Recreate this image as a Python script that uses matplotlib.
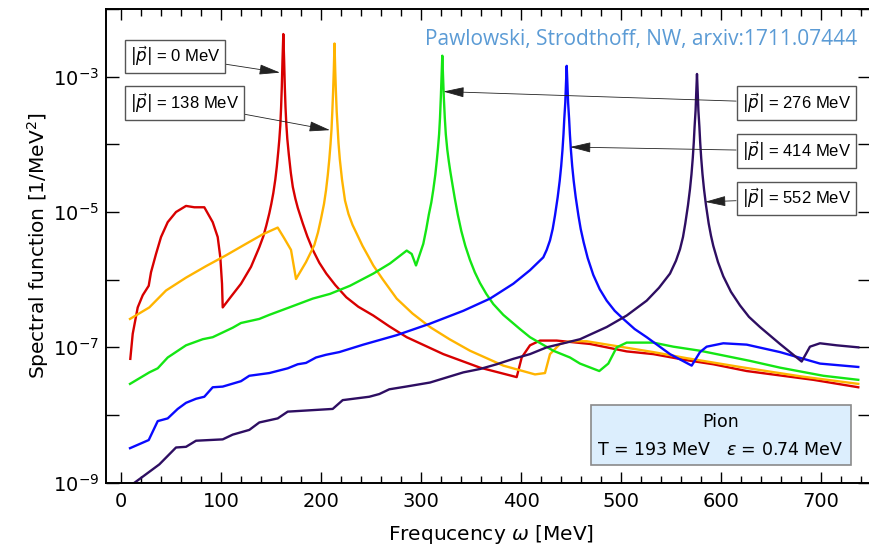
import numpy as np
import matplotlib
matplotlib.use('Agg')
import matplotlib.pyplot as plt
from matplotlib.patches import Rectangle

'''
Pion spectral function at finite momentum (log y axis).
Curves are read off the reference picture: omega in MeV and
log10 of the spectral function in 1/MeV^2.
'''

# |p| = 0 MeV
red_w = [9, 11.4, 16.4, 21.4, 27.4, 29.7, 34.7, 39.7, 46.4, 54.7, 64.7, 73, 83, 91.4, 96.4,
         99, 100.7, 101.4, 109.7, 119.7, 129.7, 138, 142, 145, 148, 150, 152, 154, 155.5, 157,
         158, 159, 159.8, 160.5, 161.2, 162, 162.8, 163.5, 164.2, 165, 166, 167.5, 169.5,
         171.5, 174, 176.5, 181.5, 186, 191.5, 198, 205, 214, 225, 237, 252, 268, 285.4, 322,
         358.7, 395.4, 400.4, 408.7, 418.7, 435.4, 468.7, 498.7, 505.4, 532, 565.4, 592,
         625.4, 692, 737]
red_log = [-7.17, -6.80, -6.41, -6.23, -6.09, -5.89, -5.62, -5.37, -5.15, -5.00, -4.91, -4.93,
           -4.93, -5.15, -5.37, -5.67, -6.06, -6.41, -6.25, -6.06, -5.81, -5.52, -5.36, -5.20,
           -5.02, -4.88, -4.72, -4.52, -4.33, -4.10, -3.93, -3.72, -3.45, -3.15, -2.75, -2.37,
           -2.75, -3.15, -3.45, -3.70, -3.92, -4.15, -4.42, -4.63, -4.80, -4.94, -5.17, -5.36,
           -5.56, -5.75, -5.91, -6.08, -6.26, -6.40, -6.53, -6.69, -6.85, -7.10, -7.30, -7.44,
           -7.15, -6.97, -6.90, -6.90, -6.95, -7.04, -7.06, -7.10, -7.19, -7.25, -7.35, -7.48,
           -7.59]

# |p| = 138 MeV
orange_w = [8.7, 28, 44.7, 64.7, 84.7, 104.7, 124.7, 141.4, 156.4, 163, 169.7, 174.7, 184.7,
            193, 196.7, 199.7, 202.7, 204.7, 206.5, 208, 209.2, 210.2, 211, 211.8, 212.5,
            213.2, 213.9, 214.6, 215.4, 216.2, 217.2, 218.5, 220.7, 223.7, 227.2, 231.2, 235.4,
            241.2, 247.2, 252, 261.2, 275.4, 291.2, 308.7, 328.2, 348.7, 382, 413.7, 423.7,
            428.7, 438.7, 448.7, 465.4, 498.7, 532, 565.4, 618.7, 680, 737]
orange_log = [-6.58, -6.41, -6.16, -5.97, -5.80, -5.64, -5.47, -5.33, -5.23, -5.39, -5.56, -5.99,
              -5.74, -5.49, -5.30, -5.10, -4.88, -4.68, -4.45, -4.22, -4.00, -3.78, -3.52,
              -3.22, -2.90, -2.51, -2.90, -3.22, -3.52, -3.72, -3.98, -4.22, -4.52, -4.83,
              -5.03, -5.19, -5.32, -5.50, -5.66, -5.79, -5.99, -6.28, -6.50, -6.70, -6.88,
              -7.05, -7.27, -7.40, -7.38, -7.10, -6.95, -6.91, -6.91, -6.99, -7.07, -7.16,
              -7.29, -7.43, -7.54]

# |p| = 276 MeV
green_w = [8.7, 28, 36.4, 46.4, 64.7, 81.4, 91.4, 101.4, 111.4, 119.7, 138, 148, 168, 191.4,
           208.7, 228.7, 252, 268.7, 285.4, 290.4, 294.7, 302, 305, 307.5, 310, 312, 314,
           315.5, 316.7, 317.8, 318.7, 319.6, 320.3, 321, 321.7, 322.5, 323.5, 324.5, 326,
           327.5, 329, 331, 333.5, 336.5, 340, 344, 348.7, 353.5, 358.7, 365, 372, 382, 398.7,
           408.7, 432, 448.7, 458.7, 478, 487, 495.4, 505.4, 532, 552, 578.7, 598.7, 628.7,
           658.7, 702, 737]
green_log = [-7.54, -7.37, -7.31, -7.15, -6.97, -6.88, -6.85, -6.78, -6.71, -6.64, -6.58, -6.52,
             -6.41, -6.28, -6.21, -6.09, -5.91, -5.76, -5.57, -5.62, -5.79, -5.47, -5.25, -5.04,
             -4.86, -4.67, -4.45, -4.24, -4.05, -3.85, -3.61, -3.28, -2.98, -2.69, -2.98, -3.30,
             -3.61, -3.85, -4.08, -4.25, -4.40, -4.58, -4.80, -5.04, -5.28, -5.50, -5.71, -5.89,
             -6.05, -6.21, -6.36, -6.52, -6.73, -6.85, -7.05, -7.15, -7.24, -7.35, -7.24, -7.00,
             -6.93, -6.93, -6.99, -7.05, -7.11, -7.20, -7.30, -7.42, -7.48]

# |p| = 414 MeV
blue_w = [8.7, 27.4, 36.4, 46.4, 56.4, 64.7, 74.7, 83, 91.4, 101.4, 119.7, 128, 148, 166.4,
          176.4, 184.7, 194.7, 204.7, 218, 242, 275.4, 308.7, 342, 368.7, 392, 408.7, 422,
          425.4, 428.7, 431.4, 433.7, 436.4, 438.4, 439.9, 441.2, 442.2, 443, 444, 444.7,
          445.4, 446.1, 446.8, 447.8, 448.6, 449.6, 450.9, 452.4, 454.4, 457.1, 459.4, 462.4,
          466.4, 472, 478.4, 485.4, 493.4, 502, 513.4, 525.4, 548.7, 570.4, 578.7, 585.4, 602,
          625.4, 658.7, 698.7, 737]
blue_log = [-8.49, -8.37, -8.09, -8.05, -7.91, -7.82, -7.76, -7.73, -7.59, -7.58, -7.50, -7.42,
            -7.38, -7.31, -7.25, -7.23, -7.15, -7.11, -7.07, -6.96, -6.82, -6.65, -6.46, -6.28,
            -6.06, -5.86, -5.67, -5.56, -5.42, -5.25, -5.05, -4.78, -4.54, -4.32, -4.08, -3.85,
            -3.62, -3.38, -3.10, -2.84, -3.10, -3.38, -3.62, -3.85, -4.08, -4.32, -4.54, -4.78,
            -5.05, -5.25, -5.45, -5.68, -5.93, -6.14, -6.31, -6.46, -6.58, -6.73, -6.85, -7.10,
            -7.27, -7.07, -6.99, -6.94, -6.96, -7.07, -7.24, -7.29]

# |p| = 552 MeV
purple_w = [8.7, 11.4, 19.7, 38, 54.7, 64.7, 74.7, 88, 101.4, 111.4, 128, 138, 156.4, 166.4,
            211.4, 221.4, 248, 258, 268, 284.7, 308.7, 342, 358.7, 375.4, 392, 408.7, 425.4,
            458.7, 485.4, 505.4, 525.4, 537.7, 548.7, 554.7, 558.7, 561.7, 564, 566.7, 568.7,
            570.2, 571.5, 572.5, 573.3, 574.3, 575, 575.7, 576.4, 577.1, 578.1, 578.9, 579.9,
            581.2, 582.7, 584.7, 587.4, 589.7, 592, 596.7, 602, 609.7, 618.7, 627.7, 638.7,
            658.7, 680.4, 688.7, 698.7, 715.4, 737]
purple_log = [-9.10, -9.02, -8.93, -8.73, -8.48, -8.47, -8.38, -8.37, -8.36, -8.29, -8.22, -8.11,
              -8.05, -7.95, -7.91, -7.78, -7.73, -7.69, -7.62, -7.58, -7.52, -7.37, -7.32, -7.25,
              -7.17, -7.10, -7.00, -6.88, -6.70, -6.53, -6.31, -6.12, -5.91, -5.72, -5.55, -5.37,
              -5.17, -4.90, -4.66, -4.44, -4.20, -3.97, -3.74, -3.50, -3.22, -2.96, -3.22, -3.50,
              -3.74, -3.97, -4.20, -4.44, -4.66, -4.90, -5.17, -5.35, -5.50, -5.74, -5.95, -6.18,
              -6.38, -6.55, -6.70, -6.95, -7.21, -6.99, -6.94, -6.97, -7.00]

curves = [
    (red_w, red_log, '#D80000'),
    (orange_w, orange_log, '#FFB400'),
    (green_w, green_log, '#14E614'),
    (blue_w, blue_log, '#0A0AFF'),
    (purple_w, purple_log, '#2E0E62'),
]

# momentum labels: text, arrow tip (omega, log10 value), box centre (omega, log10 value)
labels = ['0', '138', '276', '414', '552']
tip_w = [158.7, 208.7, 322, 448.7, 583.7]
tip_log = [-2.94, -3.79, -3.22, -4.04, -4.85]
box_w = [53.7, 63, 674.9, 674.9, 674.9]
box_log = [-2.70, -3.39, -3.39, -4.10, -4.80]

fig = plt.figure(figsize=(8.69, 5.49), dpi=100)
ax = fig.add_axes([0.1220, 0.1208, 0.8797, 0.8628])

for w, lg, c in curves:
    ax.plot(w, 10.0 ** np.array(lg), color=c, lw=1.7, solid_joinstyle='round')

ax.set_yscale('log')
ax.set_xlim(-15.3, 749.2)
ax.set_ylim(1e-9, 1e-2)

ax.set_xticks([0, 100, 200, 300, 400, 500, 600, 700])
ax.set_xticks(np.arange(0, 760, 20), minor=True)
ax.set_yticks([10.0 ** k for k in range(-9, -1)])
ax.set_yticklabels(['$10^{%d}$' % k if k % 2 else '' for k in range(-9, -1)])
ax.yaxis.set_minor_locator(matplotlib.ticker.NullLocator())
ax.tick_params(which='both', direction='in', top=True, right=True, width=1.0, labelsize=14)
ax.tick_params(axis='x', which='major', length=8, pad=7)
ax.tick_params(axis='x', which='minor', length=5)
ax.tick_params(axis='y', which='major', length=9, pad=5)
for s in ax.spines.values():
    s.set_linewidth(1.4)

ax.set_xlabel(r'Frequcency $\omega$ [MeV]', fontsize=14.5)
ax.set_ylabel('Spectral function [1/MeV$^2$]', fontsize=14.5)
ax.xaxis.set_label_coords(0.503, -0.085)
ax.yaxis.set_label_coords(-0.072, 0.5)

for lab, tw, tl, bw, bl in zip(labels, tip_w, tip_log, box_w, box_log):
    ax.annotate(r'$|\vec{p}|$ = %s MeV' % lab, xy=(tw, 10.0 ** tl), xytext=(bw, 10.0 ** bl),
                ha='center', va='center', fontsize=12, family='Liberation Sans',
                bbox=dict(boxstyle='square,pad=0.3', fc='white', ec='#555555', lw=1.0),
                arrowprops=dict(arrowstyle='-|>,head_length=1.3,head_width=0.32',
                                color='#222222', lw=0.6, mutation_scale=10,
                                shrinkA=0, shrinkB=0))

ax.text(0.983, 0.9346, 'Pawlowski, Strodthoff, NW, arxiv:1711.07444', transform=ax.transAxes,
        ha='right', va='center', color='#5B9BD5', fontsize=15, family='Open Sans')

ax.add_patch(Rectangle((0.6343, 0.0374), 0.34, 0.1266, transform=ax.transAxes,
                       fc='#DCEEFD', ec='#8A8A8A', lw=1.2, zorder=5))
ax.text(0.804, 0.128, 'Pion', transform=ax.transAxes, ha='center', va='center',
        fontsize=12.5, zorder=6)
ax.text(0.804, 0.069, r'T = 193 MeV   $\varepsilon$ = 0.74 MeV', transform=ax.transAxes,
        ha='center', va='center', fontsize=12.5, zorder=6)

fig.savefig('out.png', dpi=100)
